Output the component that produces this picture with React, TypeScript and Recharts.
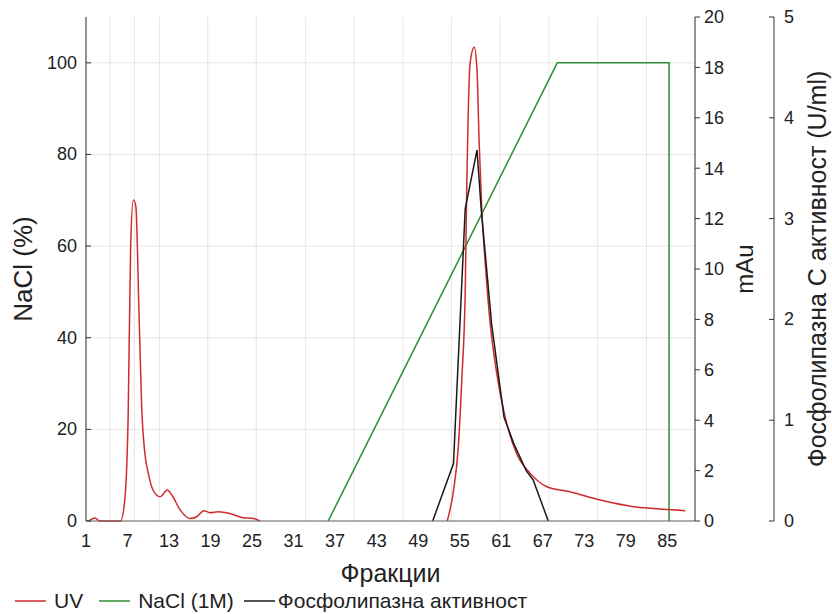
import React from "react";
import { CartesianGrid, Legend, Line, LineChart, XAxis, YAxis } from "recharts";

const FONT = "'Liberation Sans', Arial, sans-serif";
const INK = "#222";

// UV absorbance (mAu); null = no trace drawn
const uvFraction = [
  1.4, 2.3, 3.0, 6.0, 6.6, 7.1, 7.45, 7.84, 8.2, 8.66, 9.05, 9.5, 10.0, 10.7, 11.7, 12.75, 13.4,
  14.6, 16.0, 17.0, 18.05, 18.9, 20.1, 21.8, 23.7, 25.2, 26.1, 40, 53.2, 54.1, 54.8, 55.3, 55.8,
  56.0, 56.5, 57.1, 57.5, 57.8, 58.2, 58.7, 59.4, 60.35, 61.55, 63.2, 65.2, 67.6, 70.9, 75.3, 80.1,
  83.0, 87.6,
];
const uvMau = [
  0, 0.12, 0, 0, 0.83, 4.3, 10.9, 12.74, 12.5, 8.25, 4.5, 2.7, 1.9, 1.22, 0.96, 1.23, 1.03, 0.44,
  0.1, 0.17, 0.41, 0.33, 0.37, 0.3, 0.13, 0.1, 0, null, 0, 1.2, 2.95, 5.6, 9.17, 12.87, 18.16, 18.8,
  17.9, 15.1, 12.3, 10.2, 7.85, 5.86, 4.14, 2.69, 1.89, 1.36, 1.16, 0.83, 0.57, 0.5, 0.41,
];

// NaCl gradient (%)
const naclFraction = [36.0, 69.1, 85.25, 85.25];
const naclPercent = [0, 100, 100, 0];

// phospholipase C activity (U/ml)
const plcFraction = [51.1, 54.1, 55.8, 57.5, 58.1, 59.6, 61.4, 62.8, 64.6, 65.6, 67.8];
const plcActivity = [0, 0.57, 3.1, 3.68, 3.1, 1.96, 1.03, 0.77, 0.5, 0.41, 0];

const xTicks = [1, 7, 13, 19, 25, 31, 37, 43, 49, 55, 61, 67, 73, 79, 85];
const gridX = [
  1, 4.5, 8, 11.6, 15.1, 18.6, 22.1, 25.6, 29.2, 32.7, 36.2, 39.7, 43.2, 46.8, 50.3, 53.8, 57.3,
  60.8, 64.4, 67.9, 71.4, 74.9, 78.4, 82, 85.5, 89,
];
const naclTicks = [0, 20, 40, 60, 80, 100];
const mauTicks = [0, 2, 4, 6, 8, 10, 12, 14, 16, 18, 20];
const plcTicks = [0, 1, 2, 3, 4, 5];
const legendOrder = ["UV", "NaCl (1M)", "Фосфолипазна активност"];

const uvData = uvFraction.map((x, i) => ({ x, v: uvMau[i] }));
const naclData = naclFraction.map((x, i) => ({ x, v: naclPercent[i] }));
const plcData = plcFraction.map((x, i) => ({ x, v: plcActivity[i] }));

// left axis: label outside, tick mark pointing into the plot
const LeftTick = ({ x, y, payload }: any) => (
  <g>
    <line x1={x} y1={y} x2={x + 5} y2={y} stroke="#333" />
    <text x={x - 9} y={y} textAnchor="end" dominantBaseline="central" fontSize={18} fill={INK}>
      {payload.value}
    </text>
  </g>
);

// far right axis: tick mark to the left of the line, label to the right
const PlcTick = ({ x, y, payload }: any) => (
  <g>
    <line x1={x - 5} y1={y} x2={x} y2={y} stroke="#333" />
    <text x={x + 10} y={y} textAnchor="start" dominantBaseline="central" fontSize={18} fill={INK}>
      {payload.value}
    </text>
  </g>
);

const AxisTitle = ({ viewBox, value, shift, size }: any) => {
  const cx = viewBox.x + viewBox.width / 2 + shift;
  const cy = viewBox.y + viewBox.height / 2;
  return (
    <text
      x={cx}
      y={cy}
      transform={`rotate(-90 ${cx} ${cy})`}
      textAnchor="middle"
      dominantBaseline="central"
      fontSize={size}
      fill={INK}
    >
      {value}
    </text>
  );
};

const XTitle = ({ viewBox, value }: any) => (
  <text
    x={viewBox.x + viewBox.width / 2}
    y={viewBox.y + 52}
    textAnchor="middle"
    dominantBaseline="central"
    fontSize={25}
    fill={INK}
  >
    {value}
  </text>
);

const LegendRow = ({ payload }: any) => {
  const items = [...(payload || [])].sort(
    (a: any, b: any) => legendOrder.indexOf(a.value) - legendOrder.indexOf(b.value)
  );
  return (
    <div style={{ display: "flex", alignItems: "center", height: 26, paddingLeft: 15, fontSize: 21, color: INK }}>
      {items.map((p: any, i: number) => (
        <span key={p.value} style={{ display: "flex", alignItems: "center", marginRight: i === 0 ? 16 : 10 }}>
          <svg width={31} height={10}>
            <line x1={0} y1={5} x2={31} y2={5} stroke={p.color} strokeWidth={1.5} />
          </svg>
          <span style={{ marginLeft: i === 2 ? 3 : 8 }}>{p.value}</span>
        </span>
      ))}
    </div>
  );
};

export default function App() {
  return (
    <div style={{ position: "absolute", left: 0, top: 0, fontFamily: FONT, background: "#fff" }}>
      <LineChart width={832} height={614} margin={{ top: 17, right: 0, bottom: 0, left: 0 }}>
        <CartesianGrid
          xAxisId="bottom"
          yAxisId="nacl"
          stroke="#e6e6e6"
          verticalValues={gridX}
          horizontalValues={naclTicks}
        />
        <XAxis
          xAxisId="bottom"
          type="number"
          dataKey="x"
          domain={[1, 89]}
          ticks={xTicks}
          height={67}
          tickLine={false}
          tickSize={0}
          tickMargin={13}
          axisLine={{ stroke: "#666" }}
          tick={{ fontSize: 18, fill: INK }}
          label={<XTitle value="Фракции" />}
        />
        <XAxis
          xAxisId="top"
          orientation="top"
          type="number"
          domain={[1, 89]}
          ticks={gridX}
          height={0}
          mirror
          tickSize={5}
          tickLine={{ stroke: "#333" }}
          axisLine={{ stroke: "#333" }}
          tick={() => <g />}
        />
        <YAxis
          yAxisId="nacl"
          domain={[0, 110]}
          ticks={naclTicks}
          width={86}
          tickSize={0}
          tickMargin={0}
          tickLine={false}
          axisLine={{ stroke: "#333" }}
          tick={<LeftTick />}
          label={<AxisTitle value="NaCl (%)" shift={-20} size={26} />}
        />
        <YAxis
          yAxisId="mau"
          orientation="right"
          domain={[0, 20]}
          ticks={mauTicks}
          width={79}
          tickSize={5}
          tickMargin={4}
          tickLine={{ stroke: "#333" }}
          axisLine={{ stroke: "#333" }}
          tick={{ fontSize: 18, fill: INK }}
          label={<AxisTitle value="mAu" shift={10} size={24} />}
        />
        <YAxis
          yAxisId="plc"
          orientation="right"
          domain={[0, 5]}
          ticks={plcTicks}
          width={58}
          tickSize={0}
          tickMargin={0}
          tickLine={false}
          axisLine={{ stroke: "#333" }}
          tick={<PlcTick />}
          label={<AxisTitle value="Фосфолипазна С активност (U/ml)" shift={14} size={25} />}
        />
        <Legend verticalAlign="bottom" align="left" content={<LegendRow />} />
        <Line
          data={naclData}
          xAxisId="bottom"
          yAxisId="nacl"
          dataKey="v"
          name="NaCl (1M)"
          type="linear"
          stroke="#2f8f32"
          strokeWidth={1.5}
          dot={false}
          isAnimationActive={false}
        />
        <Line
          data={uvData}
          xAxisId="bottom"
          yAxisId="mau"
          dataKey="v"
          name="UV"
          type="monotone"
          stroke="#d02a2e"
          strokeWidth={1.5}
          dot={false}
          isAnimationActive={false}
        />
        <Line
          data={plcData}
          xAxisId="bottom"
          yAxisId="plc"
          dataKey="v"
          name="Фосфолипазна активност"
          type="linear"
          stroke="#1a1a1a"
          strokeWidth={1.5}
          dot={false}
          isAnimationActive={false}
        />
      </LineChart>
    </div>
  );
}
